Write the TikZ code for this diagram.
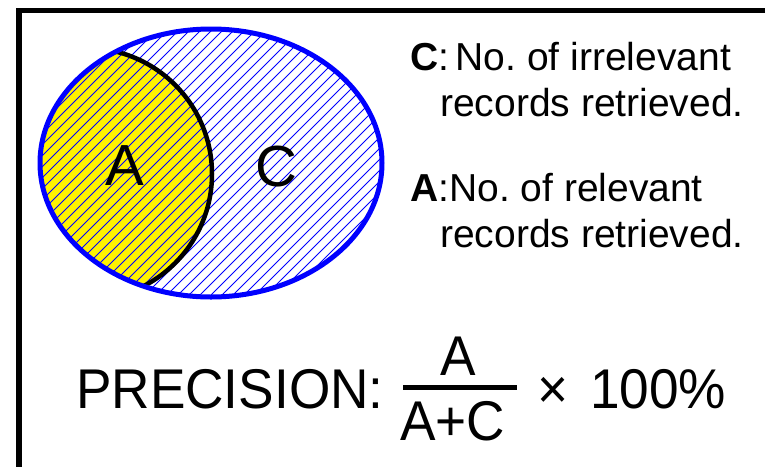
\documentclass[tikz,border=0pt]{standalone}
\usepackage{fontspec}
\setmainfont{Liberation Sans}
\newfontfamily\bigfont[FakeStretch=0.95]{Liberation Sans}
\frenchspacing
\begin{document}
\begin{tikzpicture}[x=1pt,y=-1pt,
  frameline/.style={line width=5.5pt, black},
  outline/.style={line width=5pt, blue},
  hatchline/.style={line width=1pt, blue},
  arcline/.style={line width=4.5pt, black},
  venntxt/.style={inner sep=0pt, anchor=base west, font=\fontsize{58}{60}\selectfont},
  sidetxt/.style={inner sep=0pt, anchor=base west, font=\fontsize{39}{42}\selectfont},
  eqtxt/.style={inner sep=0pt, anchor=base west, font=\bigfont\fontsize{56}{60}\selectfont}]
\useasboundingbox (0,0) rectangle (769,467);
\fill[white] (0,0) rectangle (769,467);
% frame
\draw[frameline] (765,10.5) -- (19,10.5) -- (19,467);
% venn
\begin{scope}
  \clip (211,163) ellipse [x radius=171pt, y radius=134pt];
  \fill[yellow] (86,174) circle [radius=126pt];
  \foreach \c in {0,...,60} {
    \draw[hatchline] ({55+11*\c+250},-250) -- ({55+11*\c-550},550);
  }
  \draw[arcline] (86,174) circle [radius=126pt];
\end{scope}
\draw[outline] (211,163) ellipse [x radius=171pt, y radius=134pt];
\node[venntxt] (la) at (105,185) {A};
\node[venntxt] (lc) at (255,186) {C};
% side text
\node[sidetxt] (c1) at (410,70) {\textbf{C}:\,No. of irrelevant};
\node[sidetxt] (c2) at (440,116) {records retrieved.};
\node[sidetxt] (a1) at (410,201) {\textbf{A}:No. of relevant};
\node[sidetxt] (a2) at (440,247) {records retrieved.};
% formula
\node[eqtxt] (prec) at (76,408) {PRECISION:};
\node[eqtxt] (num) at (440,375) {A};
\node[eqtxt] (den) at (400,440) {A+C};
\draw[line width=4.5pt] (403,387.5) -- (517,387.5);
\node[eqtxt] (times) at (537,408) {×};
\node[eqtxt] (pct) at (590,408) {100\%};
\end{tikzpicture}
\end{document}
